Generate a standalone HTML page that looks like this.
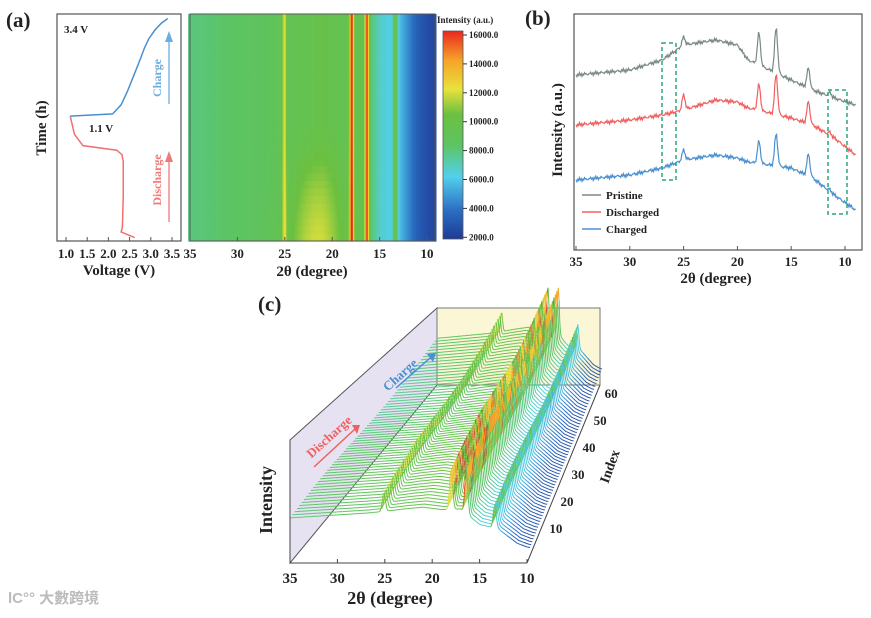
<!DOCTYPE html>
<html><head><meta charset="utf-8">
<style>
body{margin:0;background:#fff;width:871px;height:613px;overflow:hidden}
svg text{font-family:"Liberation Serif","Noto Serif CJK SC",serif;font-weight:bold;fill:#222}
</style></head>
<body>
<svg id="fig" width="871" height="613" viewBox="0 0 871 613" xmlns="http://www.w3.org/2000/svg">
<defs>
<linearGradient id="cbar" x1="0" y1="1" x2="0" y2="0">
<stop offset="0" stop-color="#1f3a96"/><stop offset="0.14" stop-color="#2c6fc4"/><stop offset="0.3" stop-color="#52d0ec"/>
<stop offset="0.45" stop-color="#5cc463"/><stop offset="0.6" stop-color="#6cc040"/><stop offset="0.72" stop-color="#e8e23c"/>
<stop offset="0.86" stop-color="#f6a228"/><stop offset="1" stop-color="#e8281e"/>
</linearGradient>
</defs>
<text x="6" y="27" font-size="21">(a)</text>
<text x="525" y="25" font-size="21">(b)</text>
<text x="258" y="311" font-size="21">(c)</text>

<g id="pa"></g>
<g id="hm"></g>
<g id="pb"></g>
<g id="pc"></g>
<text x="8" y="603" font-size="15" style="fill:#bbb;font-family:'Liberation Sans','Noto Sans CJK SC',sans-serif">lC°° 大數跨境</text>
</svg>
<script>
// ---------- data ----------
const chgV=[1.1,2.1,2.3,2.45,2.6,2.75,2.85,2.95,3.1,3.25,3.4];
const chgT=[0.55,0.56,0.6,0.66,0.73,0.8,0.85,0.89,0.93,0.96,0.98];
const disV=[2.62,2.3,2.33,2.35,2.35,2.32,2.2,1.4,1.2,1.1];
const disT=[0.015,0.04,0.06,0.2,0.35,0.38,0.4,0.42,0.47,0.55];
const thetaPts=[35,33,31,29,27,25,23,21,19,17,15,13,11,10,9];
const baseI=[7600,7800,8000,8200,8400,8700,9100,9400,9000,9100,6500,5700,3300,2700,2400];
const peakPos=[25.1,18.0,16.4,13.4];
const peakAmp=[3200,7000,7500,4000];
const humpRow=[2300,2200,2100,1950,1800,1650,1500,1300,1100,900,700,500,350,200,100,0,0,0,0,0,0,0,0,0,0,0,0,0,0,0];
const cbTicks=[16000,14000,12000,10000,8000,6000,4000,2000];
const bTheta=[35,30,27,25,22,20,19,15,13,11,9];
const bPristine=[175,180,190,205,210,205,190,170,160,152,145];
const bDischarged=[125,130,135,140,150,148,142,132,125,112,95];
const bCharged=[70,75,82,90,95,92,88,82,72,55,40];
const bPeakPos=[25.0,18.0,16.4,13.4,11.4];
const bPeakPristine=[8,32,45,20,4];
const bPeakDischarged=[15,26,40,22,3];
const bPeakCharged=[10,22,32,22,2];
const xTicks=[35,30,25,20,15,10];
const vTicks=[1.0,1.5,2.0,2.5,3.0,3.5];
const idxTicks=[10,20,30,40,50,60];
// ---------- helpers ----------
const NS="http://www.w3.org/2000/svg";
function mk(tag,attrs,parent,txt){const e=document.createElementNS(NS,tag);for(const k in attrs)e.setAttribute(k,attrs[k]);if(txt!==undefined)e.textContent=txt;parent.appendChild(e);return e;}
function interp(xs,ys,x){
  for(let i=0;i<xs.length-1;i++){const a=xs[i],b=xs[i+1];if((x-a)*(x-b)<=0){const t=(x-a)/(b-a);return ys[i]+t*(ys[i+1]-ys[i]);}}
  return Math.abs(x-xs[0])<Math.abs(x-xs[xs.length-1])?ys[0]:ys[ys.length-1];}
function prof(th){let v=interp(thetaPts,baseI,th);for(let k=0;k<peakPos.length;k++){const d=(th-peakPos[k])/0.22;v+=peakAmp[k]*Math.exp(-d*d);}return v;}
const cstops=[[2000,[31,58,150]],[4000,[44,111,196]],[6000,[82,208,236]],[8000,[92,196,99]],[10000,[108,192,64]],[12000,[232,226,60]],[14000,[246,162,40]],[16000,[232,40,30]]];
function cmap(v){if(v<=2000)return 'rgb(31,58,150)';if(v>=16000)return 'rgb(232,40,30)';for(let i=0;i<cstops.length-1;i++){const [a,ca]=cstops[i],[b,cb]=cstops[i+1];if(v>=a&&v<=b){const t=(v-a)/(b-a);return 'rgb('+ca.map((c,j)=>Math.round(c+t*(cb[j]-c))).join(',')+')';}}}
// ---------- panel a: voltage ----------
const pa=document.getElementById('pa');
const vx=v=>66+(v-1.0)*42.4, ty=t=>241-t*227;
mk('rect',{x:57,y:14,width:124,height:227,fill:'none',stroke:'#555','stroke-width':1.2},pa);
let d='';disV.forEach((v,i)=>d+=(i?'L':'M')+vx(v)+','+ty(disT[i]));
const dl=mk('path',{d:d,fill:'none',stroke:'#f07070','stroke-width':1.5},pa);

d='';chgV.forEach((v,i)=>d+=(i?'L':'M')+vx(v)+','+ty(chgT[i]));
const cl=mk('path',{d:d,fill:'none',stroke:'#4a90d0','stroke-width':1.5},pa);

vTicks.forEach(v=>{mk('line',{x1:vx(v),x2:vx(v),y1:241,y2:237,stroke:'#555'},pa);
 const t=mk('text',{x:vx(v),y:258,'font-size':13,'text-anchor':'middle'},pa,v.toFixed(1));});
mk('text',{x:119,y:275,'font-size':15,'text-anchor':'middle'},pa,'Voltage (V)');
mk('text',{x:0,y:0,'font-size':15,'text-anchor':'middle',transform:'translate(46,128) rotate(-90)'},pa,'Time (h)');
mk('text',{x:64,y:33,'font-size':11},pa,'3.4 V');
mk('text',{x:89,y:132,'font-size':11},pa,'1.1 V');
mk('line',{x1:169,y1:104,x2:169,y2:38,stroke:'#6aaee0','stroke-width':1.3},pa);
mk('polygon',{points:'165,42 173,42 169,31',fill:'#6aaee0'},pa);
mk('text',{x:0,y:0,'font-size':12,'text-anchor':'middle',transform:'translate(161,78) rotate(-90)',style:'fill:#6aaee0'},pa,'Charge');
mk('line',{x1:169,y1:222,x2:169,y2:160,stroke:'#f07878','stroke-width':1.3},pa);
mk('polygon',{points:'165,162 173,162 169,151',fill:'#f07878'},pa);
mk('text',{x:0,y:0,'font-size':12,'text-anchor':'middle',transform:'translate(161,180) rotate(-90)',style:'fill:#f07878'},pa,'Discharge');
// ---------- heatmap ----------
const hm=document.getElementById('hm');
const hx=th=>190+(35-th)*9.48;
const R=humpRow.length, rh=227/R;
for(let r=0;r<R;r++){
 const y=241-(r+1)*rh;
 for(let th=35.2;th>9.1;th-=0.12){
  const dd=(th-21.8)/2.8;
  const v=prof(th)+humpRow[r]*Math.exp(-dd*dd);
  const c=mk('rect',{x:hx(th).toFixed(2),y:y.toFixed(2),width:1.5,height:(rh+0.6).toFixed(2),fill:cmap(v)},hm);
  }}
mk('rect',{x:190,y:14,width:245,height:227,fill:'none',stroke:'#555','stroke-width':1},hm);
xTicks.forEach(v=>{mk('line',{x1:hx(v),x2:hx(v),y1:241,y2:237,stroke:'#555'},hm);
 const t=mk('text',{x:hx(v),y:258,'font-size':13,'text-anchor':'middle'},hm,v);});
mk('text',{x:312,y:276,'font-size':15,'text-anchor':'middle'},hm,'2θ (degree)');
mk('rect',{x:443,y:31,width:20,height:208,fill:'url(#cbar)',stroke:'#555','stroke-width':0.8},hm);
mk('text',{x:437,y:23,'font-size':9},hm,'Intensity (a.u.)');
cbTicks.forEach((v,i)=>{const y=35+i*28.9;mk('line',{x1:463,x2:467,y1:y,y2:y,stroke:'#333'},hm);
 const t=mk('text',{x:469,y:y+3,'font-size':9},hm,v.toFixed(1));});
// ---------- panel b ----------
const pb=document.getElementById('pb');
const bx=th=>576+(35-th)*10.76;
mk('rect',{x:574,y:14,width:288,height:236,fill:'none',stroke:'#555','stroke-width':1.2},pb);
function bcurve(base,pk,color,name){
  let p='';let i=0;
  for(let th=35;th>=9;th-=0.08){let v=interp(bTheta,base,th);for(let k=0;k<bPeakPos.length;k++){const q=(th-bPeakPos[k])/0.2;v+=pk[k]*Math.exp(-q*q);}
   v+=Math.sin(th*37)*1.2+Math.sin(th*91)*0.8;p+=(i++?'L':'M')+bx(th).toFixed(1)+','+(250-v).toFixed(1);}
  const e=mk('path',{d:p,fill:'none',stroke:color,'stroke-width':1.2},pb);
  }
bcurve(bPristine,bPeakPristine,'#7a8a85','pristine-curve');
bcurve(bDischarged,bPeakDischarged,'#f06060','discharged-curve');
bcurve(bCharged,bPeakCharged,'#4a90d0','charged-curve');
mk('rect',{x:662,y:43,width:14,height:137,fill:'none',stroke:'#2aa878','stroke-width':1.5,'stroke-dasharray':'4,3'},pb);
mk('rect',{x:828,y:90,width:19,height:124,fill:'none',stroke:'#2aa878','stroke-width':1.5,'stroke-dasharray':'4,3'},pb);
[['Pristine','#7a8a85',199],['Discharged','#f06060',216],['Charged','#4a90d0',233]].forEach(([n,c,y])=>{
 mk('line',{x1:582,x2:601,y1:y-4,y2:y-4,stroke:c,'stroke-width':1.5},pb);
 const t=mk('text',{x:606,y:y,'font-size':11},pb,n);});
xTicks.forEach(v=>{mk('line',{x1:bx(v),x2:bx(v),y1:250,y2:246,stroke:'#555'},pb);
 const t=mk('text',{x:bx(v),y:266,'font-size':13,'text-anchor':'middle'},pb,v);});
mk('text',{x:716,y:283,'font-size':15,'text-anchor':'middle'},pb,'2θ (degree)');
mk('text',{x:0,y:0,'font-size':15,'text-anchor':'middle',transform:'translate(562,130) rotate(-90)'},pb,'Intensity (a.u.)');
// ---------- panel c ----------
const pc=document.getElementById('pc');
mk('polygon',{points:'290,440 437,308 437,385 290,563',fill:'#e6e2f2',stroke:'#555','stroke-width':1},pc);
mk('rect',{x:437,y:308,width:163,height:77,fill:'#fbf7d6',stroke:'#777','stroke-width':1},pc);
const N=64;
function cpt(th,i,val){const t=i/(N-1);const xl=290+147*t,xr=527+73*t;const y0=563-178*t;
 const x=xl+(35-th)/25*(xr-xl);return [x,y0-val/16000*100];}
for(let i=N-1;i>=0;i--){
  let seg=[],col=null;
  for(let th=35;th>=9.6;th-=0.12){
    const v=prof(th)*(0.95+0.05*Math.sin(i/9));const c=cmap(v+300);const [x,y]=cpt(th,i,v);
    if(col!==null&&c!==col&&seg.length>3){const e=mk('polyline',{points:seg.join(' '),fill:'none',stroke:col,'stroke-width':1},pc);
      seg=[seg[seg.length-1]];}
    if(col===null||seg.length<=3)col=c;seg.push(x.toFixed(1)+','+y.toFixed(1));}
  const e=mk('polyline',{points:seg.join(' '),fill:'none',stroke:col,'stroke-width':1},pc);
  }
mk('line',{x1:290,y1:440,x2:290,y2:563,stroke:'#444'},pc);
mk('line',{x1:290,y1:563,x2:527,y2:563,stroke:'#444'},pc);
mk('line',{x1:527,y1:563,x2:600,y2:385,stroke:'#444'},pc);
xTicks.forEach(v=>{const x=290+(35-v)/25*237;mk('line',{x1:x,x2:x,y1:563,y2:559,stroke:'#444'},pc);
 const t=mk('text',{x:x,y:583,'font-size':15,'text-anchor':'middle'},pc,v);});
idxTicks.forEach(v=>{const t0=(v+3)/66;const x=527+73*t0,y=563-178*t0;
 const t=mk('text',{x:x+8,y:y+5,'font-size':13},pc,v);});
mk('text',{x:0,y:0,'font-size':14,'text-anchor':'middle',transform:'translate(614,468) rotate(-70)'},pc,'Index');
mk('text',{x:390,y:604,'font-size':18,'text-anchor':'middle'},pc,'2θ (degree)');
mk('text',{x:0,y:0,'font-size':18,'text-anchor':'middle',transform:'translate(272,500) rotate(-90)'},pc,'Intensity');
mk('text',{x:0,y:0,'font-size':13,'text-anchor':'middle',transform:'translate(332,440) rotate(-42)',style:'fill:#f06060'},pc,'Discharge');
mk('line',{x1:314,y1:467,x2:355,y2:429,stroke:'#f06060','stroke-width':1.5},pc);
mk('polygon',{points:'352,425 360,425 357,434',fill:'#f06060'},pc);
mk('text',{x:0,y:0,'font-size':13,'text-anchor':'middle',transform:'translate(403,378) rotate(-42)',style:'fill:#4a90d0'},pc,'Charge');
mk('line',{x1:396,y1:388,x2:430,y2:358,stroke:'#4a90d0','stroke-width':1.5},pc);
mk('polygon',{points:'427,354 436,353 433,362',fill:'#4a90d0'},pc);
</script>
</body></html>
